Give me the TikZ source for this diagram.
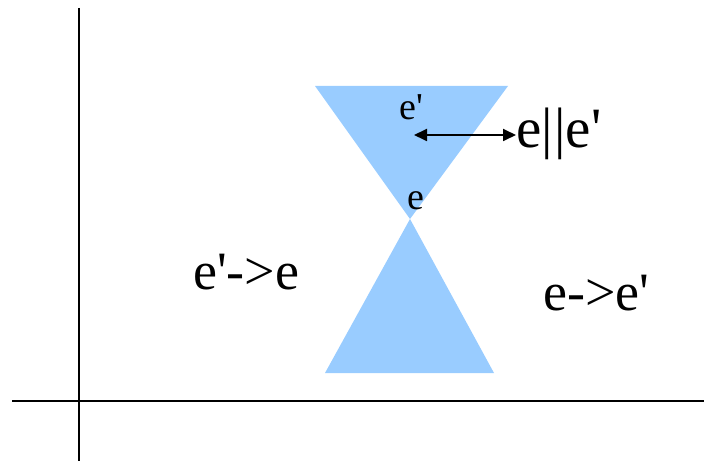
\documentclass[tikz,border=0pt]{standalone}
\usepackage{fontspec}
\setmainfont{Liberation Serif}[Ligatures=TeXOff]
\usetikzlibrary{arrows.meta}
\definecolor{cone}{HTML}{99CCFF}
\tikzset{
  axis/.style={line width=1.5pt, black},
  conefill/.style={fill=cone, draw=none},
  biglabel/.style={anchor=base west, inner sep=0pt, font=\fontsize{54}{60}\selectfont},
  parlabel/.style={anchor=base west, inner sep=0pt, font=\fontsize{57}{62}\selectfont},
  smalllabel/.style={anchor=base west, inner sep=0pt, font=\fontsize{38}{44}\selectfont},
  dblarrow/.style={line width=1.8pt, {Triangle[length=13pt,width=12pt]}-{Triangle[length=13pt,width=12pt]}}
}
\begin{document}
\begin{tikzpicture}[x=1pt,y=-1pt]
\useasboundingbox (0,0) rectangle (704,462);
% axes
\coordinate (ytop) at (79,8);
\coordinate (ybot) at (79,461);
\coordinate (xl) at (12,401);
\coordinate (xr) at (704,401);
\draw[axis] (ytop) -- (ybot);
\draw[axis] (xl) -- (xr);
% cones
\coordinate (apex) at (410,219);
\coordinate (tl) at (315,86);
\coordinate (tr) at (508,86);
\coordinate (bl) at (325,373);
\coordinate (br) at (494,373);
\fill[conefill] (tl) -- (tr) -- (apex) -- cycle;
\fill[conefill] (bl) -- (br) -- (apex) -- cycle;
% labels
\node[smalllabel] (ep) at (399,120) {e'};
\node[smalllabel] (e) at (407,210) {e};
\node[parlabel] (par) at (516,148) {e|\kern1.5pt|e'};
\node[biglabel] (past) at (193,290) {e'->e};
\node[biglabel] (fut) at (543,310) {e->e'};
% arrow
\coordinate (al) at (414,135);
\draw[dblarrow] (al) -- (par.west |- al);
\end{tikzpicture}
\end{document}
